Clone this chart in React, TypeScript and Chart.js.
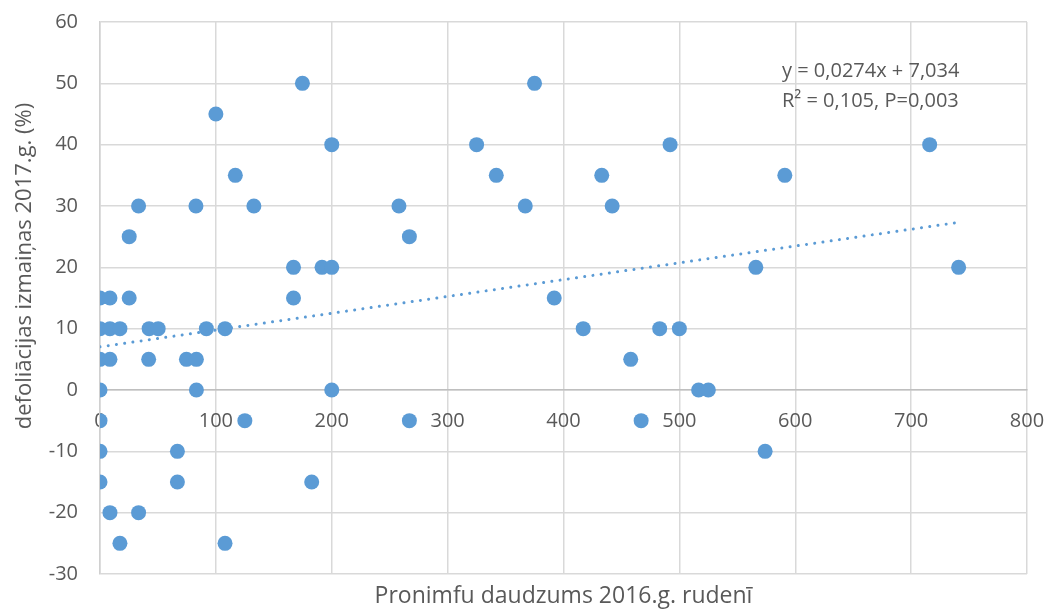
import React, { useEffect, useRef } from "react";
import { Chart, registerables } from "chart.js";

Chart.register(...registerables);

// Pronimfu daudzums 2016.g. rudenī (x) and defoliācijas izmaiņas 2017.g. (%) (y)
const pronimfu = [
  0, 8.6, 25.2, 167, 392,
  0, 8.6, 17.2, 42.4, 50.2, 91.8, 107.9, 417, 483, 500,
  0, 8.6, 42, 74.6, 83.2, 458,
  0, 83.2, 200, 516.6, 525,
  0, 125, 267, 467,
  0, 66.8, 574,
  0, 66.8, 182.7,
  8.6, 33.3,
  17.2, 107.9,
  174.7, 375,
  100,
  200, 325, 492, 716,
  116.8, 342, 433, 591,
  33.3, 82.8, 132.8, 258, 367, 442,
  25.2, 267,
  167, 191.6, 200, 566, 741,
];
const defoliation = [
  15, 15, 15, 15, 15,
  10, 10, 10, 10, 10, 10, 10, 10, 10, 10,
  5, 5, 5, 5, 5, 5,
  0, 0, 0, 0, 0,
  -5, -5, -5, -5,
  -10, -10, -10,
  -15, -15, -15,
  -20, -20,
  -25, -25,
  50, 50,
  45,
  40, 40, 40, 40,
  35, 35, 35, 35,
  30, 30, 30, 30, 30, 30,
  25, 25,
  20, 20, 20, 20, 20,
];

const trendSlope = 0.0274;
const trendIntercept = 7.034;
const equationLines = ["y = 0,0274x + 7,034", "R\u00B2 = 0,105, P=0,003"];
const xTitle = "Pronimfu daudzums 2016.g. rudenī";
const yTitle = "defoliācijas izmaiņas 2017.g. (%)";

const X_MIN = 0, X_MAX = 800, X_STEP = 100;
const Y_MIN = -30, Y_MAX = 60, Y_STEP = 10;

const BLUE = "#5B9BD5";
const TEXT = "#595959";
const GRID = "#d9d9d9";
const FONT = "'Open Sans', 'Noto Sans', sans-serif";

const textPlugin = {
  id: "excelTexts",
  afterDraw(chart: any) {
    const { ctx, chartArea } = chart;
    ctx.save();
    ctx.fillStyle = TEXT;
    // X axis title
    ctx.font = `23px ${FONT}`;
    ctx.textAlign = "center";
    ctx.textBaseline = "alphabetic";
    ctx.fillText(xTitle, (chartArea.left + chartArea.right) / 2, chartArea.bottom + 29);
    // Y axis title
    ctx.save();
    ctx.translate(25, chartArea.top + 244);
    ctx.rotate(-Math.PI / 2);
    ctx.font = `22px ${FONT}`;
    ctx.textAlign = "center";
    ctx.textBaseline = "middle";
    ctx.fillText(yTitle, 0, 0);
    ctx.restore();
    // Trendline equation
    ctx.font = `20px ${FONT}`;
    ctx.textAlign = "left";
    ctx.textBaseline = "alphabetic";
    const ex = chartArea.right - 245;
    ctx.fillText(equationLines[0], ex, chartArea.top + 55);
    ctx.fillText(equationLines[1], ex, chartArea.top + 85);
    ctx.restore();
  },
};

export default function App() {
  const canvasRef = useRef<HTMLCanvasElement | null>(null);

  useEffect(() => {
    if (!canvasRef.current) return;
    const points = pronimfu.map((x, i) => ({ x, y: defoliation[i] }));
    const xMaxData = Math.max(...pronimfu);
    const trend = [
      { x: 0, y: trendIntercept },
      { x: xMaxData, y: trendIntercept + trendSlope * xMaxData },
    ];

    const chart = new Chart(canvasRef.current, {
      type: "scatter",
      data: {
        datasets: [
          {
            label: "trend",
            data: trend,
            showLine: true,
            pointRadius: 0,
            borderColor: BLUE,
            borderWidth: 3,
            borderDash: [0.001, 8.3],
            borderCapStyle: "round",
            fill: false,
            order: 0,
          } as any,
          {
            label: "data",
            data: points,
            pointRadius: 7.5,
            pointHoverRadius: 7.5,
            backgroundColor: BLUE,
            borderWidth: 0,
            order: 1,
          },
        ],
      },
      options: {
        animation: false,
        responsive: false,
        maintainAspectRatio: false,
        layout: { padding: { left: 0, right: 20, top: 22, bottom: 35 } },
        plugins: {
          legend: { display: false },
          tooltip: { enabled: false },
          title: { display: false },
        },
        scales: {
          x: {
            type: "linear",
            position: { y: 0 } as any,
            min: X_MIN,
            max: X_MAX,
            afterFit: (scale: any) => {
              scale.paddingLeft = 0;
              scale.paddingRight = 0;
              scale.paddingTop = 0;
              scale.paddingBottom = 0;
            },
            ticks: {
              stepSize: X_STEP,
              color: TEXT,
              font: { family: FONT, size: 20 },
              padding: 19,
              maxRotation: 0,
            },
            grid: { color: GRID, lineWidth: 1.5, drawTicks: false },
            border: { display: true, color: "#bfbfbf", width: 1.5 },
          },
          y: {
            type: "linear",
            position: "left",
            min: Y_MIN,
            max: Y_MAX,
            afterFit: (scale: any) => {
              scale.width = 100;
              scale.paddingTop = 0;
              scale.paddingBottom = 0;
              scale.paddingLeft = 0;
              scale.paddingRight = 0;
            },
            ticks: {
              stepSize: Y_STEP,
              color: TEXT,
              font: { family: FONT, size: 20 },
              padding: 22,
            },
            grid: { color: GRID, lineWidth: 1.5, drawTicks: false },
            border: { display: true, color: "#d0d0d0", width: 1.5 },
          },
        },
      },
      plugins: [textPlugin],
    });
    return () => chart.destroy();
  }, []);

  return (
    <div style={{ position: "absolute", left: 0, top: 0, width: 1047, height: 609, background: "#fff" }}>
      <canvas ref={canvasRef} width={1047} height={609} style={{ display: "block" }} />
    </div>
  );
}
